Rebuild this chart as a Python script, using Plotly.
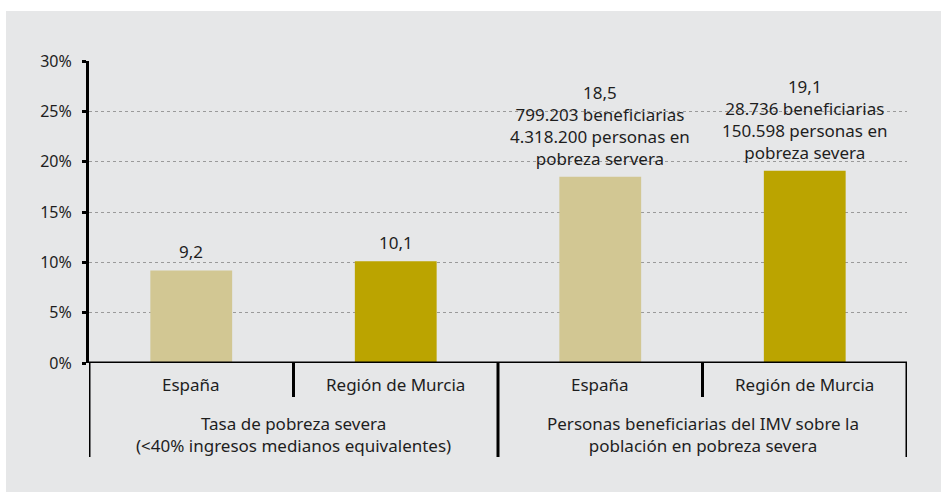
import plotly.graph_objects as go

# Data
subcategories = ["España", "Región de Murcia", "España", "Región de Murcia"]
groups = [
    "Tasa de pobreza severa<br>(<40% ingresos medianos equivalentes)",
    "Personas beneficiarias del IMV sobre la<br>población en pobreza severa",
]
values = [9.2, 10.1, 18.5, 19.1]
value_labels = [
    "9,2",
    "10,1",
    "18,5<br>799.203 beneficiarias<br>4.318.200 personas en<br>pobreza servera",
    "19,1<br>28.736 beneficiarias<br>150.598 personas en<br>pobreza severa",
]
y_ticks = [0, 5, 10, 15, 20, 25, 30]
y_tick_text = ["0%", "5%", "10%", "15%", "20%", "25%", "30%"]

LIGHT = "#D2C793"
DARK = "#BBA400"
BG = "#E6E7E8"
INK = "#1E1E1E"
FONT = "Noto Sans"

W, H = 941, 492
ML, MR, MT, MB = 89, 34, 61, 129
PW, PH = W - ML - MR, H - MT - MB


def px_y(py):
    """Convert a pixel row into paper y coordinates."""
    return (H - MB - py) / PH


def px_x(px):
    return (px - ML) / PW


positions = list(range(len(values)))
colors = [LIGHT, DARK, LIGHT, DARK]

fig = go.Figure()
fig.add_trace(go.Bar(
    x=positions, y=values, width=0.4,
    marker=dict(color=colors, line=dict(width=0)),
    hoverinfo="skip", showlegend=False,
))

shapes = [
    # panel background
    dict(type="rect", xref="paper", yref="paper", layer="below",
         x0=px_x(6), x1=px_x(W + 5), y0=px_y(H + 5), y1=px_y(11),
         fillcolor=BG, line=dict(width=0)),
]
# category dividers: short ones between sub-categories, long ones between groups
for xpos, long in [(-0.5, True), (0.5, False), (1.5, True), (2.5, False), (3.5, True)]:
    shapes.append(dict(
        type="line", xref="x", yref="paper",
        x0=xpos, x1=xpos, y0=0, y1=px_y(457 if long else 397),
        line=dict(color="black", width=3),
    ))
# baseline
shapes.append(dict(type="line", xref="paper", yref="y", x0=0, x1=1, y0=0, y1=0,
                   line=dict(color="black", width=3)))

annotations = []
for xpos, v, lab in zip(positions, values, value_labels):
    annotations.append(dict(
        x=xpos, y=v, xref="x", yref="y", text=lab, showarrow=False,
        yanchor="bottom", yshift=5, font=dict(family=FONT, size=17, color=INK),
    ))
for xpos, lab in zip(positions, subcategories):
    annotations.append(dict(
        x=xpos, y=px_y(384), xref="x", yref="paper", text=lab, showarrow=False,
        yanchor="middle", font=dict(family=FONT, size=17, color=INK),
    ))
for xpos, lab in zip([0.5, 2.5], groups):
    annotations.append(dict(
        x=xpos, y=px_y(434), xref="x", yref="paper", text=lab, showarrow=False,
        yanchor="middle", font=dict(family=FONT, size=17, color=INK),
    ))

fig.update_layout(
    width=W, height=H,
    margin=dict(l=ML, r=MR, t=MT, b=MB, pad=0),
    paper_bgcolor="white",
    plot_bgcolor="rgba(0,0,0,0)",
    font=dict(family=FONT, size=16, color=INK),
    shapes=shapes,
    annotations=annotations,
    bargap=0.6,
    xaxis=dict(range=[-0.5, 3.5], showticklabels=False, showgrid=False,
               zeroline=False, showline=False, ticks=""),
    yaxis=dict(range=[0, 30], tickvals=y_ticks, ticktext=y_tick_text,
               showline=True, linecolor="black", linewidth=3,
               ticks="outside", ticklen=4, tickwidth=3, tickcolor="black",
               showgrid=True, gridcolor="#9A9A9A", gridwidth=1, griddash="dot",
               zeroline=False, ticklabelstandoff=7,
               tickfont=dict(family=FONT, size=16, color=INK)),
)

fig.write_html("out.html")
